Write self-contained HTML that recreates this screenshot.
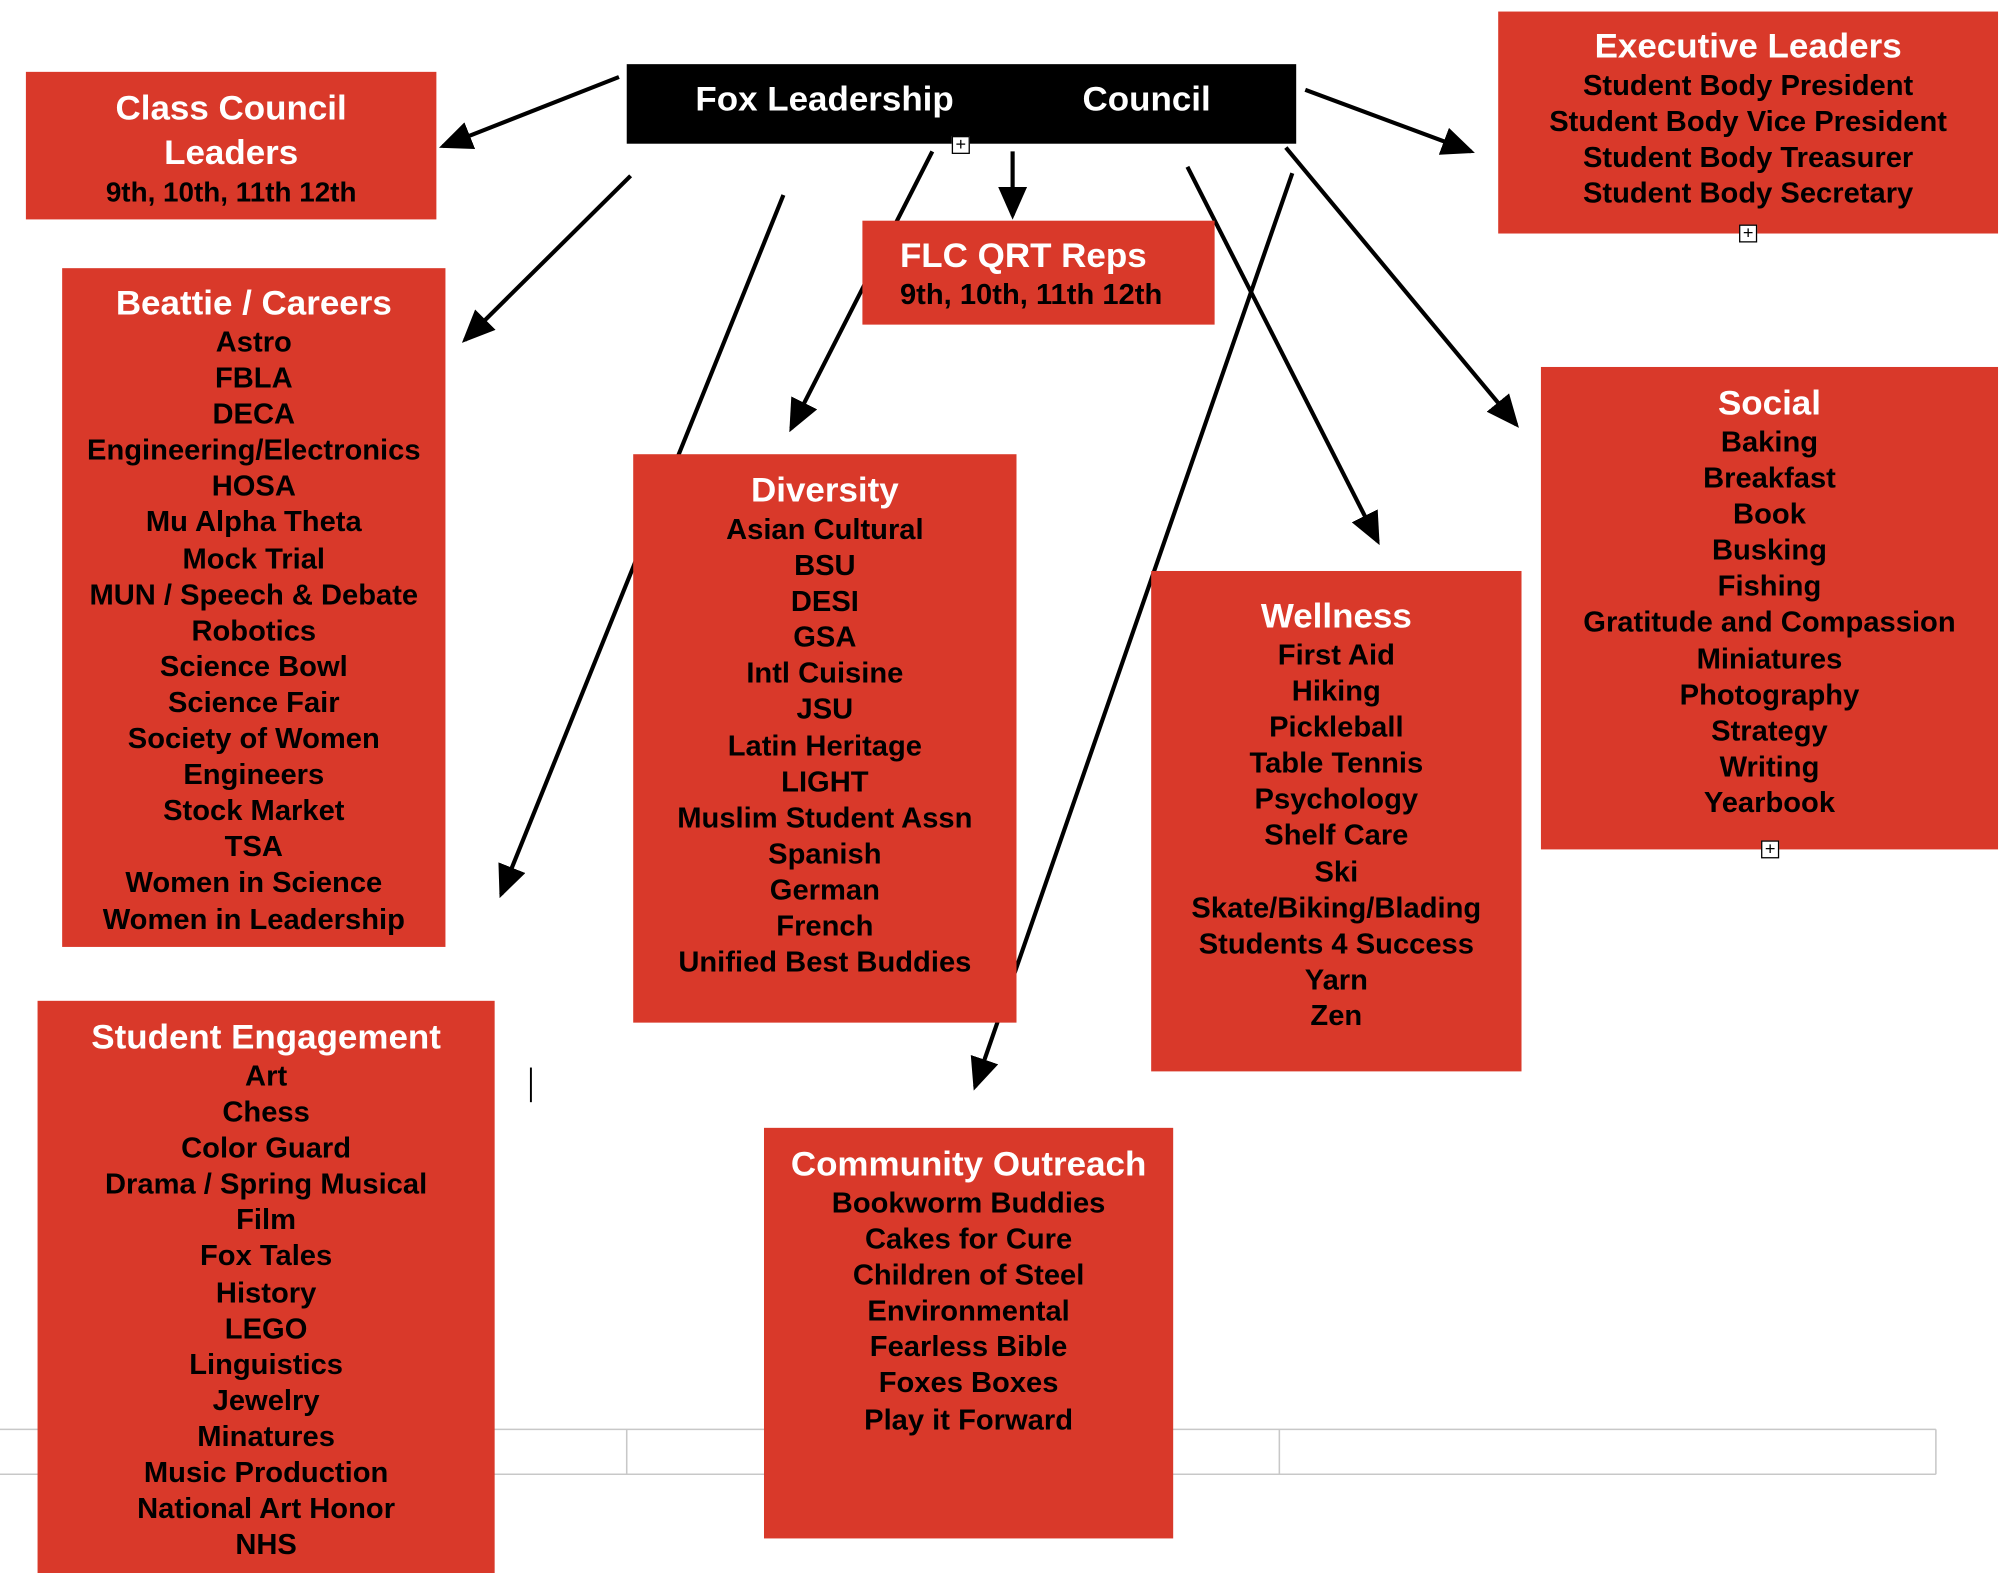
<!DOCTYPE html>
<html><head><meta charset="utf-8"><style>
html,body{margin:0;padding:0;background:#fff;width:2011px;height:1573px;overflow:hidden}
#w{position:absolute;left:0;top:0;width:1553px;height:1226px;transform-origin:0 0;transform:scale(1.2949,1.2831);font-family:"Liberation Sans",Arial,sans-serif;font-weight:bold}
.b{position:absolute;background:#d9392a;text-align:center;color:#000;font-size:22.5px;line-height:28.1px;box-sizing:border-box;white-space:nowrap}
.t{color:#fff;font-size:27px;line-height:28px;margin-bottom:3px}
.p{position:absolute;width:14px;height:14px;border:1.5px solid #000;background:#fff;box-sizing:border-box;font-size:14px;line-height:11px;text-align:center;font-weight:normal}
svg{position:absolute;left:0;top:0}
</style></head><body><div id="w">
<svg width="1553" height="1226">
<defs><marker id="a" markerWidth="8" markerHeight="7" refX="7" refY="3.5" orient="auto" markerUnits="strokeWidth"><path d="M0,0 L8,3.5 L0,7z" fill="#000"/></marker></defs>
<g stroke="#c8c8c8" stroke-width="1.2" fill="none">
<line x1="0" y1="1114" x2="1495" y2="1114"/><line x1="0" y1="1149" x2="1495" y2="1149"/>
<line x1="484" y1="1114" x2="484" y2="1149"/><line x1="988" y1="1114" x2="988" y2="1149"/><line x1="1495" y1="1114" x2="1495" y2="1149"/>
</g>
<g stroke="#000" stroke-width="3.2" fill="none" marker-end="url(#a)">
<line x1="478" y1="60" x2="342" y2="114"/>
<line x1="487" y1="137" x2="359" y2="265"/>
<line x1="605" y1="152" x2="387" y2="697"/>
<line x1="720" y1="118" x2="611" y2="334"/>
<line x1="782" y1="118" x2="782" y2="168"/>
<line x1="917" y1="130" x2="1064" y2="422"/>
<line x1="998" y1="135" x2="753" y2="847"/>
<line x1="993" y1="115" x2="1171" y2="331"/>
<line x1="1008" y1="70" x2="1136" y2="118"/>
</g>
<line x1="410" y1="832" x2="410" y2="859" stroke="#000" stroke-width="1.5"/>
</svg>
<div style="position:absolute;left:484px;top:50px;width:517px;height:62px;background:#000;color:#fff;font-size:27px">
<span style="position:absolute;left:53px;top:12px">Fox Leadership</span><span style="position:absolute;left:352px;top:12px">Council</span></div>
<div class="p" style="left:735px;top:106px">+</div>
<div class="b" style="left:20px;top:56px;width:317px;height:115px;padding-top:11px"><div class="t" style="line-height:35px;margin:0">Class Council<br>Leaders</div><div style="line-height:26px;font-size:21.5px">9th, 10th, 11th 12th</div></div>
<div class="b" style="left:1157px;top:9px;width:386px;height:173px;padding-top:13px"><div class="t">Executive Leaders</div>Student Body President<br>Student Body Vice President<br>Student Body Treasurer<br>Student Body Secretary</div>
<div class="p" style="left:1343px;top:175px">+</div>
<div class="b" style="left:666px;top:172px;width:272px;height:81px;padding-top:13px;text-align:left;padding-left:29px"><div class="t">FLC QRT Reps</div>9th, 10th, 11th 12th</div>
<div class="b" style="left:48px;top:209px;width:296px;height:529px;padding-top:13px"><div class="t">Beattie / Careers</div>Astro<br>FBLA<br>DECA<br>Engineering/Electronics<br>HOSA<br>Mu Alpha Theta<br>Mock Trial<br>MUN / Speech &amp; Debate<br>Robotics<br>Science Bowl<br>Science Fair<br>Society of Women<br>Engineers<br>Stock Market<br>TSA<br>Women in Science<br>Women in Leadership</div>
<div class="b" style="left:489px;top:354px;width:296px;height:443px;padding-top:14px"><div class="t">Diversity</div>Asian Cultural<br>BSU<br>DESI<br>GSA<br>Intl Cuisine<br>JSU<br>Latin Heritage<br>LIGHT<br>Muslim Student Assn<br>Spanish<br>German<br>French<br>Unified Best Buddies</div>
<div class="b" style="left:889px;top:445px;width:286px;height:390px;padding-top:21px"><div class="t">Wellness</div>First Aid<br>Hiking<br>Pickleball<br>Table Tennis<br>Psychology<br>Shelf Care<br>Ski<br>Skate/Biking/Blading<br>Students 4 Success<br>Yarn<br>Zen</div>
<div class="b" style="left:1190px;top:286px;width:353px;height:376px;padding-top:14px"><div class="t">Social</div>Baking<br>Breakfast<br>Book<br>Busking<br>Fishing<br>Gratitude and Compassion<br>Miniatures<br>Photography<br>Strategy<br>Writing<br>Yearbook</div>
<div class="p" style="left:1360px;top:655px">+</div>
<div class="b" style="left:29px;top:780px;width:353px;height:446px;padding-top:14px"><div class="t">Student Engagement</div>Art<br>Chess<br>Color Guard<br>Drama / Spring Musical<br>Film<br>Fox Tales<br>History<br>LEGO<br>Linguistics<br>Jewelry<br>Minatures<br>Music Production<br>National Art Honor<br>NHS</div>
<div class="b" style="left:590px;top:879px;width:316px;height:320px;padding-top:14px"><div class="t">Community Outreach</div>Bookworm Buddies<br>Cakes for Cure<br>Children of Steel<br>Environmental<br>Fearless Bible<br>Foxes Boxes<br>Play it Forward</div>
</div></body></html>
